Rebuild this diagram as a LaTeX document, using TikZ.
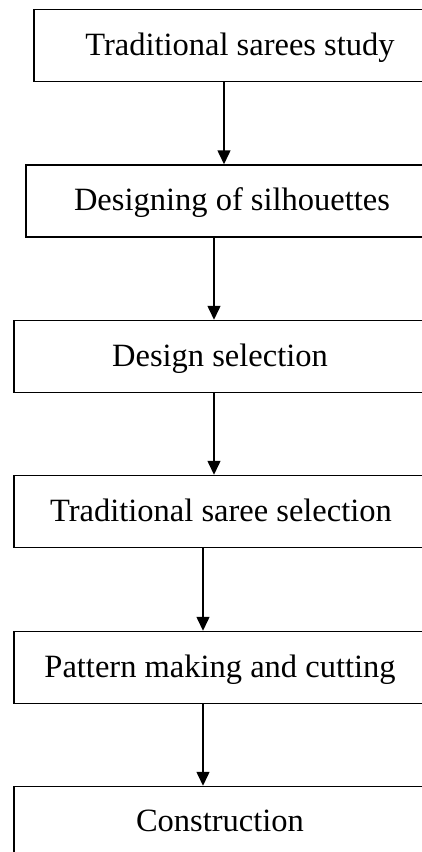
\documentclass[tikz,border=0pt]{standalone}
\usepackage{fontspec}
\setmainfont{Liberation Serif}
\usepackage{tikz}
\usetikzlibrary{arrows.meta}

\tikzset{
  stagebox/.style={draw=black, line width=1.5pt, rectangle, inner sep=0pt,
    minimum height=72pt, text depth=0.32em,
    font=\fontsize{32.5}{38}\selectfont},
  flowarrow/.style={draw=black, line width=1.5pt, -{Triangle[length=14pt,width=13pt]}}
}

\begin{document}
\begin{tikzpicture}[x=1pt,y=-1pt]
\useasboundingbox (0,0) rectangle (422,852);
\clip (0,0) rectangle (422,852);
\node[stagebox, minimum width=412pt] (study) at (240,45.5) {Traditional sarees study};
\node[stagebox, minimum width=412pt] (silh) at (232,201) {Designing of silhouettes};
\node[stagebox, minimum width=412pt] (dsel) at (220,356.5) {Design selection};
\node[stagebox, minimum width=414pt] (ssel) at (221,511.5) {Traditional saree selection};
\node[stagebox, minimum width=412pt] (patt) at (220,667.5) {Pattern making and cutting};
\node[stagebox, minimum width=412pt] (cons) at (220,822.5) {Construction};
\draw[flowarrow] ([xshift=-16pt]study.south) -- ([xshift=-8pt]silh.north);
\draw[flowarrow] ([xshift=-18pt]silh.south) -- ([xshift=-6pt]dsel.north);
\draw[flowarrow] ([xshift=-6pt]dsel.south) -- ([xshift=-7pt]ssel.north);
\draw[flowarrow] ([xshift=-18pt]ssel.south) -- ([xshift=-17pt]patt.north);
\draw[flowarrow] ([xshift=-17pt]patt.south) -- ([xshift=-17pt]cons.north);
\end{tikzpicture}
\end{document}
